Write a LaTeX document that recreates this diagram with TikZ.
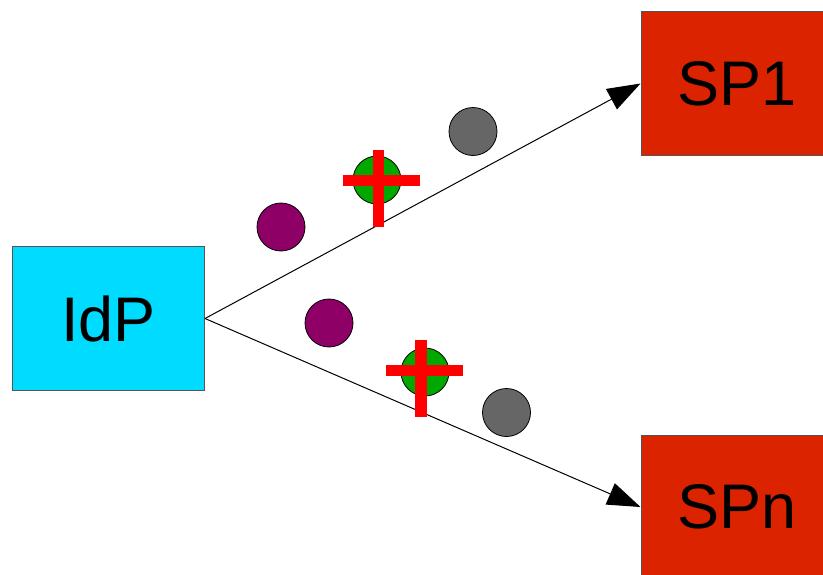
\documentclass[tikz,border=0pt]{standalone}
\usepackage{fontspec}
\setmainfont{Liberation Sans}
\usetikzlibrary{arrows.meta}
\definecolor{idpcyan}{HTML}{00DCFF}
\definecolor{spred}{HTML}{DC2300}
\definecolor{dotpurple}{HTML}{8E0066}
\definecolor{dotgreen}{HTML}{00A800}
\definecolor{dotgray}{HTML}{666666}
\definecolor{crossred}{HTML}{FF0000}
\definecolor{edgegray}{HTML}{555555}
\tikzset{
  box/.style={draw=edgegray, line width=1pt, minimum width=192pt, minimum height=144pt,
    inner sep=0pt, font=\fontsize{63}{68}\selectfont},
  dot/.style={circle, draw=black, line width=0.8pt, minimum size=48pt, inner sep=0pt},
  arr/.style={line width=1pt, -{Triangle[length=33pt,width=23pt]}},
  crossbar/.style={fill=crossred, draw=none}
}
\begin{document}
\begin{tikzpicture}[x=1pt,y=-1pt]
\useasboundingbox (0,0) rectangle (823,574);
\clip (0,0) rectangle (823,574);
\node[box, fill=idpcyan] (idp) at (108.5,318.5) {IdP};
\node[box, fill=spred] (sp1) at (737,83.5) {SP1};
\node[box, fill=spred] (spn) at (737,507) {SPn};
\draw[arr] (idp.east) -- (sp1.west);
\draw[arr] (idp.east) -- (spn.west);
% upper dots
\node[dot, fill=dotpurple] (p1) at (281,227) {};
\node[dot, fill=dotgreen] (g1) at (377,180) {};
\node[dot, fill=dotgray] (k1) at (473,131.5) {};
\fill[crossred] (343,175) rectangle (420,186);
\fill[crossred] (372.5,150) rectangle (384,227);
% lower dots
\node[dot, fill=dotpurple] (p2) at (329,323) {};
\node[dot, fill=dotgreen] (g2) at (425,372) {};
\node[dot, fill=dotgray] (k2) at (506.5,412.5) {};
\fill[crossred] (385.5,365) rectangle (462.5,376);
\fill[crossred] (415,340) rectangle (426.5,417);
\end{tikzpicture}
\end{document}
